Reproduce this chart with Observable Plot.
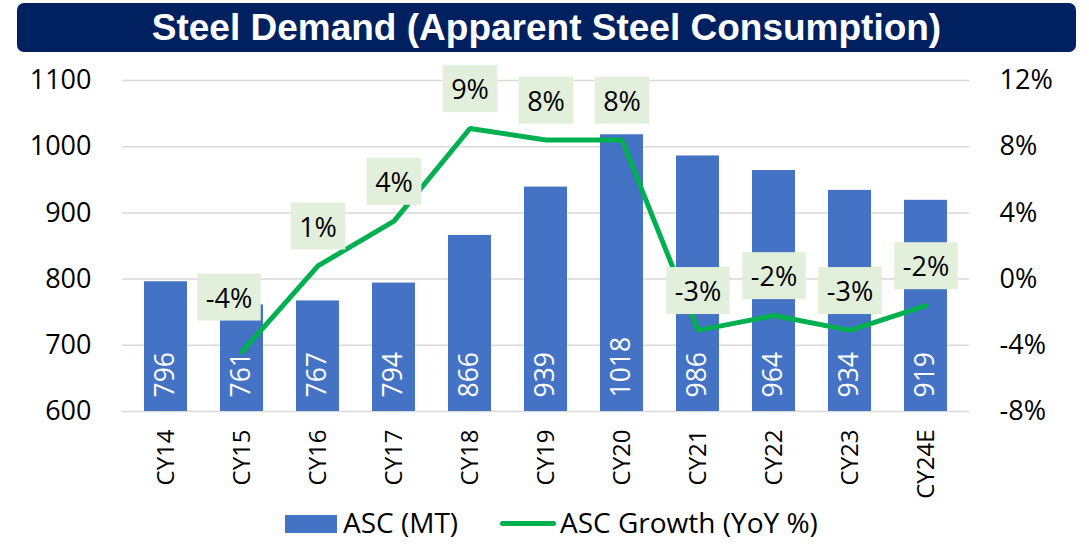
<!DOCTYPE html>
<html>
<head>
<meta charset="utf-8">
<script src="https://cdn.jsdelivr.net/npm/d3@7"></script>
<script src="https://cdn.jsdelivr.net/npm/@observablehq/plot@0.6"></script>
<style>
  html, body { margin: 0; padding: 0; background: #fff; }
  #wrap { position: relative; width: 1089px; height: 546px; overflow: hidden; font-family: "Open Sans", sans-serif; }
  #title { position: absolute; left: 17px; top: 3px; width: 1059px; height: 49px; background: #002060; border-radius: 7px;
           color: #fff; font-family: "Liberation Sans", Arial, sans-serif; font-weight: bold; font-size: 37px;
           display: flex; align-items: center; justify-content: center; }
  #chart { position: absolute; left: 0; top: 52px; }
  .leg { position: absolute; top: 508px; height: 28px; line-height: 28px; font-size: 28px; color: #000; white-space: nowrap; }
  .sw { position: absolute; }
</style>
</head>
<body>
<div id="wrap">
  <div id="title">Steel Demand (Apparent Steel Consumption)</div>
  <div id="chart"></div>
  <div class="sw" style="left:285px; top:515px; width:52px; height:18px; background:#4472C4;"></div>
  <div class="leg" style="left:343px;">ASC (MT)</div>
  <div class="sw" style="left:500px; top:521px; width:56px; height:5px; background:#00B050; border-radius:3px;"></div>
  <div class="leg" style="left:560px;">ASC Growth (YoY %)</div>
</div>
<script>
const categories = ["CY14","CY15","CY16","CY17","CY18","CY19","CY20","CY21","CY22","CY23","CY24E"];
const ascValues = [796, 761, 767, 794, 866, 939, 1018, 986, 964, 934, 919];
const growthValues = [null, -4.4, 0.8, 3.5, 9.1, 8.4, 8.4, -3.1, -2.2, -3.1, -1.6];
const growthLabels = [null, "-4%", "1%", "4%", "9%", "8%", "8%", "-3%", "-2%", "-3%", "-2%"];
const ascTicks = [600, 700, 800, 900, 1000, 1100];
const growthTicks = [-8, -4, 0, 4, 8, 12];

const data = categories.map((c, i) => ({cat: c, asc: ascValues[i], growth: growthValues[i], glabel: growthLabels[i], idx: i}));
const gData = data.filter(d => d.growth != null);

// map growth (%) onto the left axis domain (secondary axis)
const yMin = ascTicks[0], yMax = ascTicks[ascTicks.length - 1];
const gMin = growthTicks[0], gMax = growthTicks[growthTicks.length - 1];
const g2y = g => yMin + (g - gMin) * (yMax - yMin) / (gMax - gMin);
const y2g = y => gMin + (y - yMin) * (gMax - gMin) / (yMax - yMin);

const chart = Plot.plot({
  width: 1089,
  height: 445,
  marginTop: 28,
  marginBottom: 86,
  marginLeft: 122,
  marginRight: 120,
  style: {fontFamily: "'Open Sans', sans-serif", fontSize: "27px", color: "#000", background: "transparent", overflow: "visible"},
  x: {domain: categories, paddingInner: 0.43, paddingOuter: 0.22, label: null},
  y: {domain: [yMin, yMax], label: null},
  marks: [
    Plot.gridY(ascTicks, {stroke: "#D9D9D9", strokeOpacity: 1, strokeWidth: 1.5}),
    Plot.barY(data, {x: "cat", y1: yMin, y2: "asc", fill: "#4472C4"}),
    Plot.text(data, {x: "cat", y: yMin, text: d => String(d.asc), rotate: -90, textAnchor: "start", lineAnchor: "middle",
                     dy: -14, fill: "#fff", fontSize: 26.5}),
    Plot.line(gData, {x: "cat", y: d => g2y(d.growth), stroke: "#00B050", strokeWidth: 5, strokeLinejoin: "miter"}),
    Plot.axisY({ticks: ascTicks, tickFormat: d => String(d), anchor: "left", tickSize: 0, tickPadding: 31, label: null, fontSize: 27}),
    Plot.axisY({ticks: growthTicks.map(g2y), tickFormat: d => Math.round(y2g(d)) + "%", anchor: "right",
                tickSize: 0, tickPadding: 30, label: null, fontSize: 27}),
    Plot.axisX({tickRotate: -90, tickSize: 0, tickPadding: 18, label: null, fontSize: 24}),
    Plot.text(gData.filter(d => d.idx === 1), {x: "cat", y: d => g2y(d.growth), text: "glabel", dx: -13, dy: -53,
                     fill: "#000", fontSize: 27, className: "glab"}),
    Plot.text(gData.filter(d => d.idx !== 1), {x: "cat", y: d => g2y(d.growth), text: "glabel", dy: -38,
                     fill: "#000", fontSize: 27, className: "glab"})
  ]
});
document.getElementById("chart").appendChild(chart);

// label background boxes (Excel-like data label fill)
d3.select(chart).selectAll("g.glab text").each(function() {
  const b = this.getBBox();
  const cy = b.y + b.height / 2;
  const w = b.width + 17, h = 47;
  d3.select(this.parentNode).insert("rect", () => this)
    .attr("x", b.x - 8.5).attr("y", cy - h / 2).attr("width", w).attr("height", h)
    .attr("fill", "#E2EFDA").attr("transform", this.getAttribute("transform"));
});
</script>
</body>
</html>
